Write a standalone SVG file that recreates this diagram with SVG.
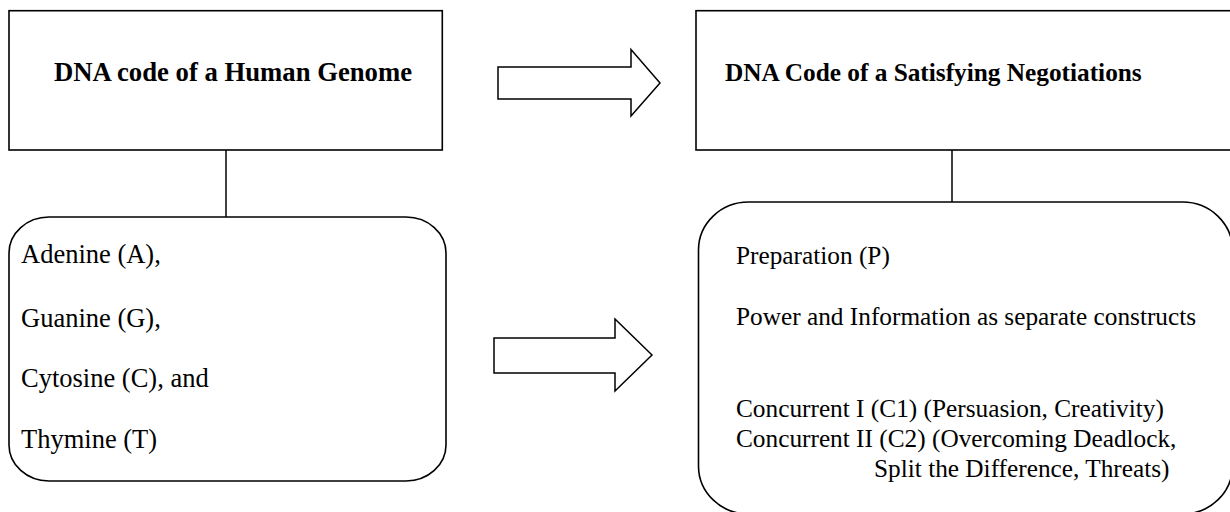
<svg xmlns="http://www.w3.org/2000/svg" width="1230" height="512" viewBox="0 0 1230 512">
<style>
.box{fill:#fff;stroke:#000;stroke-width:1.6}
.ln{stroke:#000;stroke-width:1.5;fill:none}
.arr{fill:#fff;stroke:#000;stroke-width:1.5;stroke-linejoin:miter}
.t{font-family:"Liberation Serif","Times New Roman",serif;font-size:26.5px;fill:#000}
.t2{font-family:"Liberation Serif","Times New Roman",serif;font-size:25.3px;fill:#000}
.b{font-family:"Liberation Serif","Times New Roman",serif;font-size:26.7px;font-weight:bold;fill:#000}
.b2{font-family:"Liberation Serif","Times New Roman",serif;font-size:25.3px;font-weight:bold;fill:#000}
</style>
<rect width="1230" height="512" fill="#fff"/>
<g id="connectors">
<line class="ln" x1="226" y1="150" x2="226" y2="217"/>
<line class="ln" x1="952" y1="150" x2="952" y2="202"/>
<polygon class="arr" points="498,67 631,67 631,49.5 660,83 631,116 631,99 498,99"/>
<polygon class="arr" points="494,338 615,338 615,319 652,355 615,391 615,373 494,373"/>
</g>
<g id="human-genome">
<rect class="box" x="9" y="10.7" width="433.3" height="139.3"/>
<text class="b" x="54" y="81">DNA code of a Human Genome</text>
</g>
<g id="negotiations">
<rect class="box" x="696" y="10.7" width="536" height="139.3"/>
<text class="b2" x="725" y="81">DNA Code of a Satisfying Negotiations</text>
</g>
<g id="bases">
<rect class="box" x="9" y="217" width="437" height="264" rx="40" ry="36"/>
<text class="t" x="21" y="263">Adenine (A),</text>
<text class="t" x="21" y="326.5">Guanine (G),</text>
<text class="t" x="21" y="386.5">Cytosine (C), and</text>
<text class="t" x="21" y="448">Thymine (T)</text>
</g>
<g id="constructs">
<rect class="box" x="698.5" y="202" width="534" height="312" rx="50" ry="48"/>
<text class="t2" x="736" y="264">Preparation (P)</text>
<text class="t2" x="736" y="325">Power and Information as separate constructs</text>
<text class="t2" x="736" y="417">Concurrent I (C1) (Persuasion, Creativity)</text>
<text class="t2" x="736" y="447">Concurrent II (C2) (Overcoming Deadlock,</text>
<text class="t2" x="874" y="477">Split the Difference, Threats)</text>
</g>
</svg>
